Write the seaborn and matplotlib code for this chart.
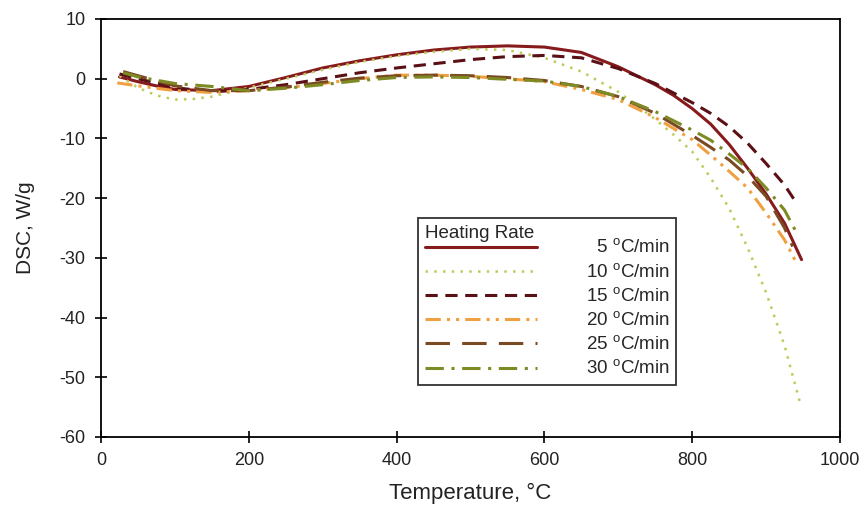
import pandas as pd
import matplotlib.pyplot as plt
import seaborn as sns

# DSC curves, one pair of arrays per heating rate
t5 = [25, 50, 75, 100, 150, 200, 250, 300, 350, 400, 450, 500, 550, 600, 650, 700, 750,
      775, 800, 825, 850, 875, 900, 925, 948]
v5 = [0.3, -0.5, -1.2, -1.8, -2.0, -1.3, 0.2, 1.8, 3.0, 4.0, 4.8, 5.3, 5.5, 5.3, 4.4, 2.0, -1.0,
      -2.8, -5.0, -7.6, -11.0, -15.0, -19.3, -24.2, -30.3]

t10 = [25, 50, 75, 100, 125, 150, 200, 250, 300, 350, 400, 450, 500, 550, 600, 650, 700,
       750, 775, 800, 825, 850, 875, 900, 925, 946]
v10 = [0.5, -1.5, -2.8, -3.5, -3.4, -3.0, -1.5, 0.0, 1.5, 2.8, 3.8, 4.5, 5.0, 4.8, 3.5, 1.2, -2.2,
       -6.8, -9.4, -12.2, -16.6, -21.7, -28.3, -35.8, -44.7, -54.3]

t15 = [25, 50, 100, 150, 200, 250, 300, 350, 400, 450, 500, 550, 600, 650, 700, 750, 800,
       825, 850, 875, 900, 925, 941]
v15 = [0.8, 0.0, -1.5, -2.2, -1.8, -1.0, 0.0, 1.0, 1.8, 2.5, 3.2, 3.7, 3.9, 3.5, 1.7, -0.8, -4.0,
       -5.8, -8.0, -10.8, -14.2, -17.8, -20.8]

t20 = [22, 50, 100, 150, 200, 250, 300, 350, 400, 450, 500, 550, 600, 650, 700, 750, 800,
       825, 850, 875, 900, 925, 940]
v20 = [-0.7, -1.2, -2.0, -2.3, -2.0, -1.5, -0.8, 0.0, 0.6, 0.6, 0.4, 0.0, -0.5, -1.8, -3.5, -6.5, -10.2,
       -12.8, -15.5, -18.3, -22.5, -27.0, -30.6]

t25 = [30, 50, 100, 150, 200, 250, 300, 350, 400, 450, 500, 550, 600, 650, 700, 750, 800,
       825, 850, 875, 900, 925, 936]
v25 = [1.2, 0.5, -1.2, -2.0, -2.0, -1.4, -0.6, 0.1, 0.5, 0.6, 0.5, 0.2, -0.3, -1.3, -3.0, -5.8, -9.5,
       -11.5, -13.6, -16.3, -19.7, -25.0, -28.1]

t30 = [30, 50, 100, 150, 200, 250, 300, 350, 400, 450, 500, 550, 600, 650, 700, 750, 800,
       825, 850, 875, 900, 925, 940]
v30 = [1.0, 0.3, -0.8, -1.3, -2.0, -1.6, -1.0, -0.3, 0.2, 0.3, 0.2, -0.1, -0.4, -1.3, -3.0, -5.5, -8.6,
       -10.3, -12.6, -15.0, -18.3, -22.0, -25.5]

labels = ["\u20075 $^{\\mathrm{o}}$C/min", "10 $^{\\mathrm{o}}$C/min", "15 $^{\\mathrm{o}}$C/min",
          "20 $^{\\mathrm{o}}$C/min", "25 $^{\\mathrm{o}}$C/min", "30 $^{\\mathrm{o}}$C/min"]

series = [(t5, v5), (t10, v10), (t15, v15), (t20, v20), (t25, v25), (t30, v30)]
colors = ["#861a1c", "#bccb5a", "#5a1014", "#f0a040", "#7a4a22", "#7e8a24"]
styles = ["-", (0, (1, 2.5)), (0, (4, 2.5)), (0, (5, 2, 1, 2, 1, 2)), (0, (8, 4)), (0, (6, 2.5, 1, 2.5))]
widths = [2.2, 1.8, 2.2, 2.2, 2.2, 2.2]

sns.set_style("ticks")
plt.rcParams["font.family"] = ["Liberation Sans", "DejaVu Sans"]
plt.rcParams["axes.unicode_minus"] = False
plt.rcParams["mathtext.fontset"] = "custom"
plt.rcParams["mathtext.rm"] = "Liberation Sans"

fig = plt.figure(figsize=(8.64, 5.08), dpi=100)
ax = fig.add_axes([0.1169, 0.1398, 0.8553, 0.8228])

for (t, v), lab, c, ls, lw in zip(series, labels, colors, styles, widths):
    df = pd.DataFrame({"T": t, "DSC": v})
    sns.lineplot(data=df, x="T", y="DSC", ax=ax, color=c, linestyle=ls,
                 linewidth=lw, label=lab, sort=False)

ax.set_xlim(0, 1000)
ax.set_ylim(-60, 10)
ax.set_xticks(range(0, 1001, 200))
ax.set_yticks(range(-60, 11, 10))
ax.set_xlabel("Temperature, °C", fontsize=16, labelpad=10, color="#222222")
ax.set_ylabel("DSC, W/g", fontsize=15, labelpad=18, color="#222222")
ax.tick_params(direction="inout", length=8, width=1.2, labelsize=13, pad=7,
               colors="black", labelcolor="#222222")
for s in ax.spines.values():
    s.set_visible(True)
    s.set_color("black")
    s.set_linewidth(1.3)

leg = ax.legend(title="Heating Rate", loc="upper left", bbox_to_anchor=(0.429, 0.524),
                borderaxespad=0, fontsize=13.5, title_fontsize=13.5,
                handlelength=6.0, handletextpad=2.6, labelspacing=0.29,
                frameon=True, fancybox=False, edgecolor="black", borderpad=0.35)
leg._legend_box.align = "left"
leg._legend_box.sep = -2
leg.get_frame().set_linewidth(1.3)

plt.savefig("out.png", dpi=100)
plt.close()
